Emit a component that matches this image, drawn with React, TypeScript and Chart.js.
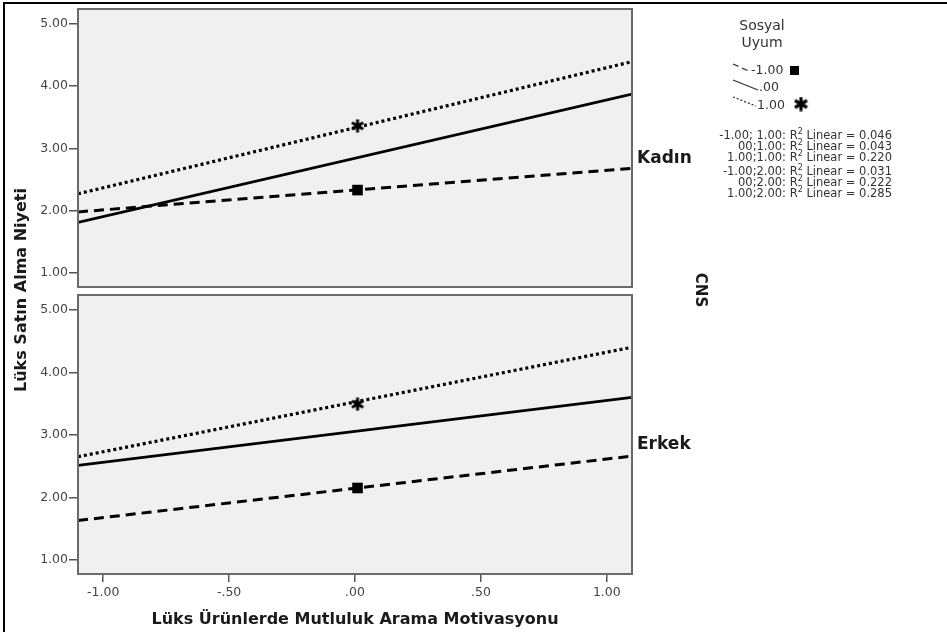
import React, { useEffect, useRef } from "react";
import { Chart, registerables } from "chart.js";
Chart.register(...registerables);

// ---------- data ----------
const xTicks = [-1, -0.5, 0, 0.5, 1];
const yTicks = [1, 2, 3, 4, 5];
const lineX = [-1.1, 1.1];
const kadinLow = [1.98, 2.68];
const kadinMid = [1.81, 3.87];
const kadinHigh = [2.27, 4.39];
const erkekLow = [1.63, 2.66];
const erkekMid = [2.51, 3.6];
const erkekHigh = [2.65, 4.4];
const markerX = [0.01];
const kadinSquare = [2.33];
const kadinStar = [3.36];
const erkekSquare = [2.15];
const erkekStar = [3.49];
const panelNames = ["Kadın", "Erkek"];
const legendTitle = ["Sosyal", "Uyum"];
const legendLevels = ["-1.00", ".00", "1.00"];
const r2Groups = ["-1.00; 1.00", "00;1.00", "1.00;1.00", "-1.00;2.00", "00;2.00", "1.00;2.00"];
const r2Values = ["0.046", "0.043", "0.220", "0.031", "0.222", "0.285"];
const xTitle = "Lüks Ürünlerde Mutluluk Arama Motivasyonu";
const yTitle = "Lüks Satın Alma Niyeti";
const panelVar = "CNS";

// ---------- layout ----------
const W = 947;
const H = 632;
const PLOT_L = 78;
const PLOT_R = 632;
const TOP_PANEL = [9, 287];
const BOT_PANEL = [295, 574];
const Y_MIN = 0.775;
const Y_MAX = 5.235;
const FONT = "'DejaVu Sans', 'Liberation Sans', sans-serif";

const fmtY = (v: number) => v.toFixed(2);
const fmtX = (v: number) => v.toFixed(2).replace(/^(-?)0\./, "$1.");

function makeAsterisk(size: number, lw: number) {
  const c = document.createElement("canvas");
  c.width = size;
  c.height = size;
  const g = c.getContext("2d")!;
  g.strokeStyle = "#000";
  g.lineWidth = lw;
  g.lineCap = "butt";
  const r = size / 2 - 0.5;
  const cx = size / 2;
  for (let k = 0; k < 3; k++) {
    const a = Math.PI / 2 + (k * Math.PI) / 3;
    g.beginPath();
    g.moveTo(cx - r * Math.cos(a), cx - r * Math.sin(a));
    g.lineTo(cx + r * Math.cos(a), cx + r * Math.sin(a));
    g.stroke();
  }
  return c;
}

const panelPlugin = {
  id: "panelDeco",
  beforeDraw(chart: any) {
    const { ctx, chartArea: a } = chart;
    ctx.save();
    ctx.fillStyle = "#f0f0f0";
    ctx.fillRect(a.left, a.top, a.right - a.left, a.bottom - a.top);
    ctx.restore();
  },
  afterDraw(chart: any) {
    const { ctx, chartArea: a } = chart;
    const name = chart.options.plugins.panelDeco.name;
    ctx.save();
    ctx.strokeStyle = "#6a6a6a";
    ctx.lineWidth = 2;
    ctx.strokeRect(a.left, a.top, a.right - a.left, a.bottom - a.top);
    ctx.fillStyle = "#1a1a1a";
    ctx.font = `bold 17px ${FONT}`;
    ctx.textAlign = "left";
    ctx.textBaseline = "middle";
    const yPix = chart.scales.y.getPixelForValue(chart.options.plugins.panelDeco.labelAt);
    ctx.fillText(name, a.right + 5, yPix);
    ctx.restore();
  },
};

const pagePlugin = {
  id: "pageDeco",
  afterDraw(chart: any) {
    const ctx = chart.ctx as CanvasRenderingContext2D;
    ctx.save();
    // outer frame (top & left)
    ctx.fillStyle = "#000";
    ctx.fillRect(3, 2, W - 3, 2);
    ctx.fillRect(3, 2, 2, H - 2);

    // y title
    ctx.fillStyle = "#1a1a1a";
    ctx.font = `bold 16px ${FONT}`;
    ctx.textAlign = "center";
    ctx.textBaseline = "middle";
    ctx.save();
    ctx.translate(22, 290);
    ctx.rotate(-Math.PI / 2);
    ctx.fillText(yTitle, 0, 0);
    ctx.restore();

    // panel variable
    ctx.font = `bold 15px ${FONT}`;
    ctx.save();
    ctx.translate(700, 290);
    ctx.rotate(Math.PI / 2);
    ctx.fillText(panelVar, 0, 0);
    ctx.restore();

    // legend
    ctx.fillStyle = "#333";
    ctx.font = `14px ${FONT}`;
    ctx.fillText(legendTitle[0], 762, 26);
    ctx.fillText(legendTitle[1], 762, 43);

    ctx.strokeStyle = "#333";
    ctx.lineWidth = 1.3;
    const samples: [number, number, number, number, number[]][] = [
      [733, 64, 751, 72, [6, 4]],
      [733, 80, 758, 90, []],
      [733, 97, 756, 106, [2, 2]],
    ];
    samples.forEach(([x1, y1, x2, y2, d]) => {
      ctx.setLineDash(d);
      ctx.beginPath();
      ctx.moveTo(x1, y1);
      ctx.lineTo(x2, y2);
      ctx.stroke();
    });
    ctx.setLineDash([]);

    ctx.font = `12.5px ${FONT}`;
    ctx.textAlign = "left";
    ctx.fillText(legendLevels[0], 751, 71);
    ctx.fillText(legendLevels[1], 759, 88);
    ctx.fillText(legendLevels[2], 757, 106);
    ctx.fillStyle = "#000";
    ctx.fillRect(790, 66, 9, 9);
    const st = makeAsterisk(15, 3.2);
    ctx.drawImage(st, 801 - 7.5, 104 - 7.5);

    // R2 lines
    const ys = [136, 147, 158, 172, 183, 194];
    ctx.fillStyle = "#333";
    r2Groups.forEach((g, i) => {
      const pre = `${g}: R`;
      const sup = "2";
      const post = ` Linear = ${r2Values[i]}`;
      ctx.font = `11.5px ${FONT}`;
      const w1 = ctx.measureText(pre).width;
      const w3 = ctx.measureText(post).width;
      ctx.font = `8px ${FONT}`;
      const w2 = ctx.measureText(sup).width;
      let x = 892 - (w1 + w2 + w3);
      ctx.textAlign = "left";
      ctx.textBaseline = "middle";
      ctx.font = `11.5px ${FONT}`;
      ctx.fillText(pre, x, ys[i]);
      x += w1;
      ctx.font = `8px ${FONT}`;
      ctx.fillText(sup, x, ys[i] - 4);
      x += w2;
      ctx.font = `11.5px ${FONT}`;
      ctx.fillText(post, x, ys[i]);
    });
    ctx.restore();
  },
};

function buildConfig(
  panel: number[],
  showX: boolean,
  low: number[],
  mid: number[],
  high: number[],
  sq: number[],
  star: number[],
  name: string,
  labelAt: number,
  starImg: HTMLCanvasElement
): any {
  const pts = (arr: number[]) => lineX.map((x, i) => ({ x, y: arr[i] }));
  return {
    type: "line",
    data: {
      datasets: [
        { data: pts(low), borderColor: "#000", borderWidth: 3, borderDash: [10, 6], pointRadius: 0, fill: false },
        { data: pts(mid), borderColor: "#000", borderWidth: 2.8, pointRadius: 0, fill: false },
        { data: pts(high), borderColor: "#000", borderWidth: 3.2, borderDash: [3, 3], pointRadius: 0, fill: false },
        {
          data: markerX.map((x, i) => ({ x, y: sq[i] })),
          showLine: false,
          pointStyle: "rect",
          pointRadius: 7.5,
          backgroundColor: "#000",
          borderColor: "#000",
          borderWidth: 0,
        },
        {
          data: markerX.map((x, i) => ({ x, y: star[i] })),
          showLine: false,
          pointStyle: starImg,
          pointRadius: 7,
        },
      ],
    },
    options: {
      responsive: false,
      animation: false,
      events: [],
      layout: { padding: { left: 0, top: panel[0], right: W - PLOT_R, bottom: showX ? 0 : H - panel[1] } },
      plugins: {
        legend: { display: false },
        tooltip: { enabled: false },
        panelDeco: { name, labelAt },
      },
      scales: {
        x: {
          type: "linear",
          min: -1.1,
          max: 1.1,
          display: showX,
          afterBuildTicks: (s: any) => {
            s.ticks = xTicks.map((v) => ({ value: v }));
          },
          afterFit: (s: any) => {
            s.height = showX ? H - panel[1] : 0;
          },
          ticks: {
            autoSkip: false,
            maxRotation: 0,
            padding: 3,
            color: "#444",
            font: { family: FONT, size: 12.5 },
            callback: (v: any) => fmtX(Number(v)),
          },
          grid: { display: true, drawOnChartArea: false, tickLength: 8, color: "#555", lineWidth: 1.5 },
          border: { display: false },
          title: {
            display: true,
            text: xTitle,
            color: "#1a1a1a",
            font: { family: FONT, size: 16, weight: "bold" },
            padding: { top: 0, bottom: 2.4 },
          },
        },
        y: {
          type: "linear",
          min: Y_MIN,
          max: Y_MAX,
          afterBuildTicks: (s: any) => {
            s.ticks = yTicks.map((v) => ({ value: v }));
          },
          afterFit: (s: any) => {
            s.width = PLOT_L;
          },
          ticks: {
            padding: 1,
            color: "#444",
            font: { family: FONT, size: 12.5 },
            callback: (v: any) => fmtY(Number(v)),
          },
          grid: { display: true, drawOnChartArea: false, tickLength: 9, color: "#555", lineWidth: 1.5 },
          border: { display: false },
        },
      },
    },
  };
}

export default function App() {
  const topRef = useRef<HTMLCanvasElement>(null);
  const botRef = useRef<HTMLCanvasElement>(null);

  useEffect(() => {
    document.body.style.margin = "0";
    const star = makeAsterisk(14, 3);
    const cfgTop = buildConfig(TOP_PANEL, false, kadinLow, kadinMid, kadinHigh, kadinSquare, kadinStar, panelNames[0], 2.84, star);
    cfgTop.plugins = [panelPlugin, pagePlugin];
    const cfgBot = buildConfig(BOT_PANEL, true, erkekLow, erkekMid, erkekHigh, erkekSquare, erkekStar, panelNames[1], 2.84, star);
    cfgBot.plugins = [panelPlugin];
    const c1 = new Chart(topRef.current!, cfgTop);
    const c2 = new Chart(botRef.current!, cfgBot);
    return () => {
      c1.destroy();
      c2.destroy();
    };
  }, []);

  const canvasStyle: React.CSSProperties = { position: "absolute", left: 0, top: 0, width: W, height: H };
  return (
    <div style={{ position: "relative", width: W, height: H, background: "#fff", overflow: "hidden" }}>
      <canvas ref={topRef} width={W} height={H} style={canvasStyle} />
      <canvas ref={botRef} width={W} height={H} style={canvasStyle} />
    </div>
  );
}
